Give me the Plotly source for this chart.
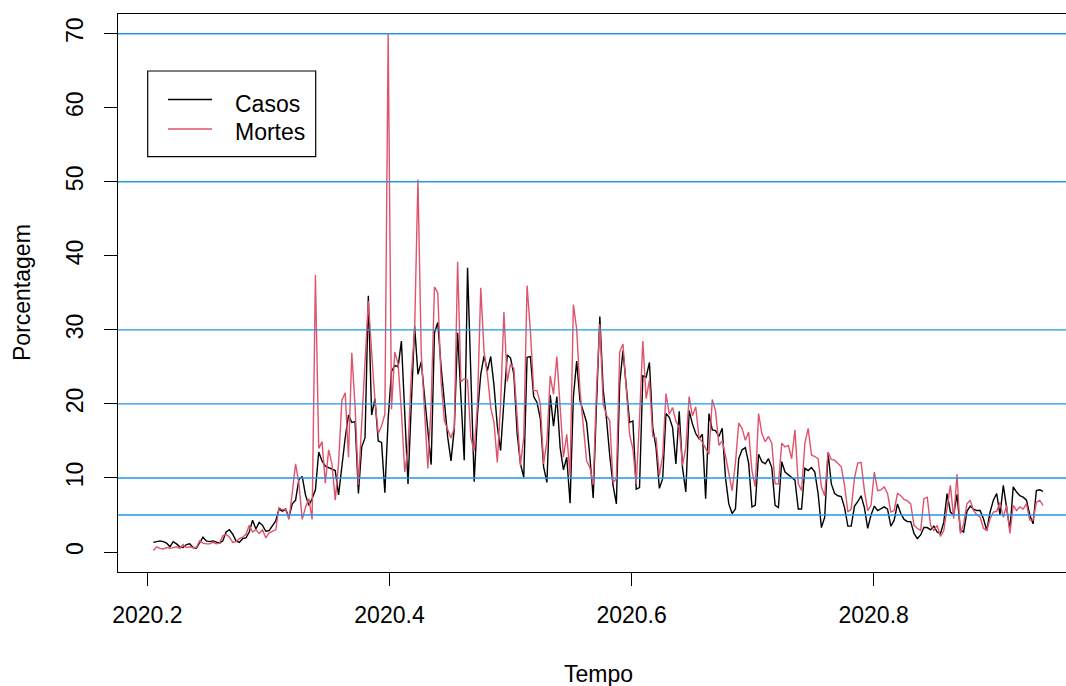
import numpy as np
import pandas as pd
import plotly.graph_objects as go

# ---- data ----
start_date = "2020-03-16"

casos = [
    1.3, 1.4, 1.5, 1.4, 1.2, 0.7, 1.4, 1.1, 0.7, 0.6,
    1.0, 1.1, 0.6, 0.5, 1.2, 2.0, 1.5, 1.4, 1.5, 1.4,
    1.2, 1.5, 2.7, 3.0, 2.4, 1.5, 1.3, 1.8, 1.9, 2.7,
    4.3, 3.1, 4.0, 3.6, 2.8, 2.9, 3.6, 4.2, 5.8, 5.5,
    5.8, 4.7, 6.5, 7.0, 9.8, 10.2, 7.7, 6.3, 7.2, 8.4,
    13.5, 12.3, 11.6, 11.4, 11.2, 11.0, 7.7, 11.6, 15.4, 18.5,
    17.5, 17.6, 7.9, 14.2, 15.4, 34.6, 18.5, 20.7, 15.0, 14.8,
    8.0, 18.0, 24.4, 25.2, 25.0, 28.5, 18.0, 9.2, 20.0, 30.5,
    24.0, 25.7, 21.0, 16.0, 11.8, 29.6, 31.0, 25.0, 20.0, 15.5,
    12.3, 16.7, 29.6, 20.0, 12.4, 38.4, 24.0, 9.5, 18.6, 24.0,
    26.5, 24.5, 26.4, 22.5, 17.0, 13.7, 20.4, 26.6, 26.2, 24.0,
    16.0, 11.9, 10.1, 26.3, 26.4, 21.0, 20.2, 18.0, 11.5, 9.4,
    21.2, 17.0, 21.0, 14.1, 11.1, 12.8, 6.6, 20.9, 25.8, 20.4,
    19.0, 17.5, 12.8, 7.3, 20.0, 31.8, 22.0, 18.0, 13.0, 9.0,
    6.5, 22.7, 27.2, 22.0, 17.5, 17.7, 8.5, 8.7, 23.8, 23.6,
    25.6, 16.8, 14.1, 8.6, 9.9, 18.7, 18.2, 16.8, 11.9, 19.0,
    11.4, 8.1, 19.1, 17.3, 16.0, 15.3, 15.9, 7.2, 18.7, 16.5,
    16.4, 15.6, 16.7, 10.0, 6.5, 5.2, 5.8, 12.6, 13.8, 14.1,
    12.0, 6.1, 6.3, 13.2, 12.2, 11.9, 12.6, 11.4, 6.3, 6.0,
    12.2, 10.8, 10.4, 10.1, 9.7, 5.8, 5.8, 11.3, 11.0, 11.4,
    10.8, 7.9, 3.3, 4.7, 13.4, 9.2, 7.9, 7.6, 7.5, 6.0,
    3.5, 3.5, 6.2, 6.8, 7.6, 6.0, 3.2, 5.0, 6.2, 5.6,
    5.8, 6.1, 5.8, 3.5, 4.3, 6.5, 5.2, 4.4, 4.1, 4.1,
    2.5, 1.8, 2.3, 3.3, 3.3, 3.0, 3.5, 2.7, 2.5, 4.0,
    7.9, 5.4, 5.0, 7.8, 3.0, 2.7, 5.5, 6.2, 5.8, 5.6,
    5.6, 4.5, 2.9, 5.4, 7.0, 7.9, 5.0, 9.0, 6.0, 3.0,
    8.8, 8.1, 7.6, 7.4, 7.0, 5.0, 3.8, 8.3, 8.4, 8.2,
]

mortes = [
    0.2, 0.7, 0.5, 0.4, 0.6, 0.5, 0.6, 0.7, 0.5, 1.0,
    0.6, 0.7, 0.6, 0.6, 1.5, 1.2, 1.1, 1.1, 1.3, 1.1,
    1.2, 2.2, 2.4, 2.0, 1.3, 1.4, 1.8, 2.0, 2.4, 3.6,
    2.7, 3.0, 2.5, 3.0, 1.9, 2.6, 2.8, 3.0, 6.0, 5.7,
    5.8, 4.4, 8.0, 11.9, 9.3, 4.4, 6.0, 7.2, 4.4, 37.4,
    14.0, 14.9, 9.3, 13.8, 11.9, 7.0, 12.0, 20.5, 21.5, 12.8,
    26.9, 19.6, 9.1, 18.0, 26.0, 33.9, 27.0, 20.5, 16.0, 17.0,
    18.6, 70.0, 19.3, 27.0, 25.4, 19.0, 10.8, 14.0, 24.0, 30.0,
    50.3, 26.8, 19.0, 11.3, 20.0, 35.8, 35.0, 23.0, 17.7, 16.5,
    15.4, 16.8, 39.2, 23.0, 23.4, 23.2, 15.4, 13.6, 20.0, 35.7,
    27.0, 24.0, 19.5, 17.5, 12.1, 20.0, 32.4, 23.0, 25.4, 24.8,
    18.0, 11.7, 15.5, 36.0, 29.9, 21.8, 21.8, 20.0, 11.9, 15.0,
    23.8, 21.3, 26.4, 19.1, 12.8, 15.9, 10.3, 33.4, 30.1, 21.8,
    17.0, 12.3, 11.4, 9.1, 22.0, 30.8, 20.0, 18.5, 17.7, 9.4,
    9.9, 27.0, 28.1, 21.4, 15.9, 13.9, 9.2, 18.0, 28.5, 20.7,
    23.2, 15.6, 15.4, 10.3, 13.0, 21.4, 18.6, 19.5, 17.7, 16.8,
    11.7, 14.1, 21.0, 18.4, 19.6, 15.4, 14.8, 14.0, 13.2, 20.6,
    19.0, 14.4, 15.0, 13.0, 10.5, 8.3, 12.0, 17.4, 16.7, 15.1,
    16.2, 11.0, 8.8, 18.7, 16.0, 14.9, 15.6, 14.7, 9.2, 9.2,
    14.7, 14.2, 14.4, 12.6, 16.5, 9.2, 8.3, 14.7, 16.7, 13.1,
    12.9, 12.6, 8.8, 7.6, 13.5, 12.5, 12.4, 12.0, 11.5, 9.0,
    5.4, 5.8, 10.0, 12.0, 12.1, 8.3, 5.6, 6.3, 10.8, 8.3,
    8.4, 8.8, 7.9, 5.4, 5.6, 7.9, 7.6, 7.1, 6.9, 6.5,
    3.6, 3.2, 2.9, 7.2, 7.4, 3.6, 2.9, 3.6, 2.1, 2.9,
    6.0, 9.0, 4.5, 10.5, 2.5, 3.8, 6.5, 7.0, 5.6, 5.0,
    4.7, 3.2, 2.9, 4.5, 5.4, 5.5, 6.7, 4.7, 6.3, 2.5,
    6.3, 5.6, 6.1, 5.8, 6.5, 4.3, 4.3, 6.7, 7.0, 6.3,
]

ref_lines = [5, 10, 20, 30, 50, 70]
x_tick_vals = [2020.2, 2020.4, 2020.6, 2020.8]
x_tick_text = ["2020.2", "2020.4", "2020.6", "2020.8"]
y_tick_vals = [0, 10, 20, 30, 40, 50, 60, 70]
series_names = ["Casos", "Mortes"]

# ---- time axis (decimal year, like an R ts) ----
dates = pd.date_range(start_date, periods=len(casos), freq="D")
tempo = 2020 + (np.asarray(dates.dayofyear) - 1) / 366.0

FONT = "Liberation Sans, Arial, Helvetica, sans-serif"
BLACK = "#000000"
RED = "#DF536B"
BLUE = "#2297E6"

fig = go.Figure()
fig.add_trace(go.Scatter(x=tempo, y=casos, mode="lines", name=series_names[0],
                         line=dict(color=BLACK, width=1.4), showlegend=False))
fig.add_trace(go.Scatter(x=tempo, y=mortes, mode="lines", name=series_names[1],
                         line=dict(color=RED, width=1.4), showlegend=False))

shapes = []
for h in ref_lines:
    shapes.append(dict(type="line", xref="paper", x0=0, x1=1, yref="y", y0=h, y1=h,
                       line=dict(color=BLUE, width=1.4), layer="above"))

# legend box (R-style)
W, H = 948.0, 558.0
def px(xp):
    return (xp - 118.0) / W
def py(yp):
    return (572.0 - yp) / H

shapes.append(dict(type="rect", xref="paper", yref="paper",
                   x0=px(147.7), x1=px(315.7), y0=py(156.7), y1=py(71),
                   line=dict(color=BLACK, width=1.2), fillcolor="white", layer="above"))
shapes.append(dict(type="line", xref="paper", yref="paper",
                   x0=px(168), x1=px(212), y0=py(99.5), y1=py(99.5),
                   line=dict(color=BLACK, width=1.4), layer="above"))
shapes.append(dict(type="line", xref="paper", yref="paper",
                   x0=px(168), x1=px(212), y0=py(129), y1=py(129),
                   line=dict(color=RED, width=1.4), layer="above"))

annotations = [
    dict(text=series_names[0], xref="paper", yref="paper", x=px(233), y=py(104),
         xanchor="left", yanchor="middle", showarrow=False,
         font=dict(family=FONT, size=23, color=BLACK)),
    dict(text=series_names[1], xref="paper", yref="paper", x=px(233), y=py(132),
         xanchor="left", yanchor="middle", showarrow=False,
         font=dict(family=FONT, size=23, color=BLACK)),
    dict(text="Tempo", xref="paper", yref="paper", x=px(598.5), y=py(674),
         xanchor="center", yanchor="middle", showarrow=False,
         font=dict(family=FONT, size=23, color=BLACK)),
    dict(text="Porcentagem", xref="paper", yref="paper", x=px(22), y=py(293),
         xanchor="center", yanchor="middle", showarrow=False, textangle=-90,
         font=dict(family=FONT, size=23, color=BLACK)),
]

fig.update_layout(
    width=1066, height=686,
    margin=dict(l=118, r=0, t=14, b=114, pad=0),
    paper_bgcolor="white", plot_bgcolor="white",
    font=dict(family=FONT, size=23, color=BLACK),
    showlegend=False,
    shapes=shapes,
    annotations=annotations,
    xaxis=dict(range=[2020.1757, 2020.9589], showgrid=False, zeroline=False,
               showline=True, mirror=True, linecolor=BLACK, linewidth=1.2,
               ticks="outside", ticklen=13, tickwidth=1.2, tickcolor=BLACK,
               tickvals=x_tick_vals, ticktext=x_tick_text, ticklabelstandoff=9,
               tickfont=dict(family=FONT, size=23, color=BLACK),
               automargin=False),
    yaxis=dict(range=[-2.7, 72.66], showgrid=False, zeroline=False,
               showline=True, mirror=False, linecolor=BLACK, linewidth=1.2,
               ticks="outside", ticklen=13, tickwidth=1.2, tickcolor=BLACK,
               tickvals=y_tick_vals, tickangle=-90, ticklabelstandoff=12,
               tickfont=dict(family=FONT, size=23, color=BLACK),
               automargin=False),
)

fig.write_html("out.html")
